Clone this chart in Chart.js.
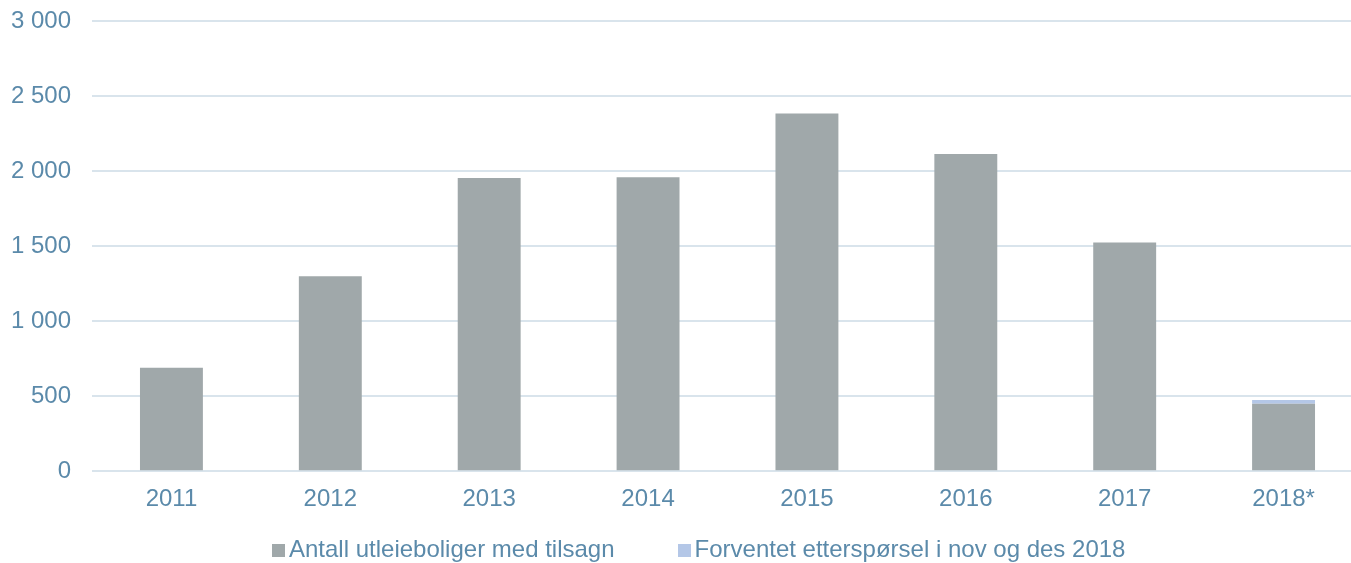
<!DOCTYPE html>
<html>
<head>
<meta charset="utf-8">
<script src="https://cdn.jsdelivr.net/npm/chart.js@4"></script>
<style>
  html, body { margin: 0; padding: 0; background: #fff; overflow: hidden; }
  #wrap { position: relative; width: 1363px; height: 563px; }
  #chart { position: relative; top: -14px; }
  #legend {
    position: absolute; left: 272px; top: 535px;
    display: flex; align-items: center;
    font-family: 'Liberation Sans', Arial, sans-serif; font-size: 24px; color: #5b8aaa;
  }
  #legend .item { display: flex; align-items: center; margin-right: 63px; white-space: nowrap; }
  #legend .item:last-child { margin-right: 0; }
  #legend .box { width: 13px; height: 13px; margin-right: 4px; margin-top: 3px; }
</style>
</head>
<body>
<div id="wrap">
  <canvas id="chart"></canvas>
  <div id="legend"></div>
</div>
<script>
const years = ["2011", "2012", "2013", "2014", "2015", "2016", "2017", "2018*"];
const tilsagn = [690, 1300, 1955, 1960, 2385, 2115, 1525, 450];
const forventet = [0, 0, 0, 0, 0, 0, 0, 25];
const yTicks = [0, 500, 1000, 1500, 2000, 2500, 3000];

const textColor = "#5b8aaa";
const gridColor = "#d9e4ec";

Chart.defaults.font.family = "'Liberation Sans', Arial, sans-serif";
Chart.defaults.font.size = 24;
Chart.defaults.color = textColor;

const ctx = document.getElementById("chart").getContext("2d");
const chart = new Chart(ctx, {
  type: "bar",
  data: {
    labels: years,
    datasets: [
      {
        label: "Antall utleieboliger med tilsagn",
        data: tilsagn,
        backgroundColor: "#a0a8aa",
        barPercentage: 0.396,
        categoryPercentage: 1,
      },
      {
        label: "Forventet etterspørsel i nov og des 2018",
        data: forventet,
        backgroundColor: "#b4c7e7",
        barPercentage: 0.396,
        categoryPercentage: 1,
      },
    ],
  },
  options: {
    responsive: true,
    maintainAspectRatio: false,
    animation: false,
    layout: { padding: { top: 6, right: 0, left: 0, bottom: 29 } },
    scales: {
      x: {
        stacked: true,
        grid: { display: false },
        border: { display: false },
        ticks: { padding: 6, maxRotation: 0 },
      },
      y: {
        stacked: true,
        min: 0,
        max: 3000,
        afterBuildTicks: (axis) => {
          axis.ticks = yTicks.map(v => ({ value: v }));
        },
        afterFit: (axis) => { axis.width = 92; },
        grid: { color: gridColor, lineWidth: 2, drawTicks: false },
        border: { display: false },
        ticks: {
          padding: 21,
          callback: (v) => v.toString().replace(/\B(?=(\d{3})+(?!\d))/g, " "),
        },
      },
    },
    plugins: {
      legend: { display: false },
      tooltip: { enabled: false },
    },
  },
});

// legend i HTML, bygget fra datasettene
const legendEl = document.getElementById("legend");
chart.data.datasets.forEach(ds => {
  const item = document.createElement("div");
  item.className = "item";
  const box = document.createElement("span");
  box.className = "box";
  box.style.background = ds.backgroundColor;
  item.appendChild(box);
  item.appendChild(document.createTextNode(ds.label));
  legendEl.appendChild(item);
});
</script>
</body>
</html>
